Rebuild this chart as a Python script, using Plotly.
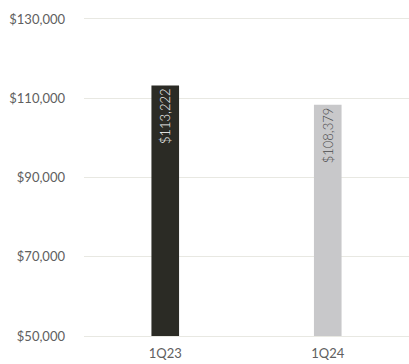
import plotly.graph_objects as go

quarters = ["1Q23", "1Q24"]
values = [113222, 108379]
labels = ["$113,222", "$108,379"]
bar_colors = ["#2b2b25", "#c8c8ca"]
label_colors = ["#ffffff", "#4a4a4a"]
tick_vals = [50000, 70000, 90000, 110000, 130000]
tick_text = ["$50,000", "$70,000", "$90,000", "$110,000", "$130,000"]

grid_color = "#e8e8e2"
tick_font = dict(family="Lato", size=13, color="#606060", weight=400)

fig = go.Figure(
    go.Bar(
        x=quarters,
        y=values,
        base=0,
        text=labels,
        textposition="inside",
        insidetextanchor="end",
        textangle=-90,
        textfont=dict(family="Lato", size=13, color=label_colors, weight=300),
        marker=dict(color=bar_colors, line=dict(width=0)),
        width=0.17,
    )
)

fig.update_layout(
    width=409,
    height=364,
    margin=dict(l=84, r=0, t=19, b=28),
    paper_bgcolor="white",
    plot_bgcolor="white",
    showlegend=False,
    font=tick_font,
    uniformtext=dict(minsize=13, mode="show"),
)
# the x-axis line (mirrored) doubles as the top and bottom gridlines
fig.update_xaxes(
    showgrid=False,
    showline=True,
    mirror=True,
    linecolor=grid_color,
    linewidth=1,
    ticks="",
    ticklabelstandoff=5,
    tickfont=tick_font,
)
fig.update_yaxes(
    range=[50000, 130000],
    tickvals=tick_vals,
    ticktext=tick_text,
    showgrid=True,
    gridcolor=grid_color,
    gridwidth=1,
    zeroline=False,
    showline=False,
    ticks="",
    ticklabelstandoff=18,
    tickfont=tick_font,
)

fig.write_html("out.html")
